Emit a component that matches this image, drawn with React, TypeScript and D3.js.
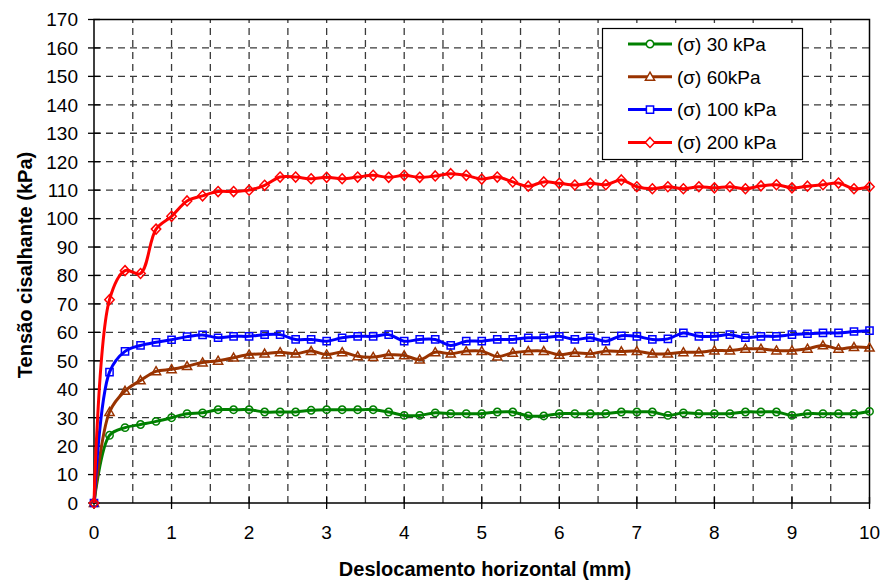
import React, { useEffect, useRef } from "react";
import * as d3 from "d3";

// displacement (mm), one reading every 0.2 mm
const displacement = [
  0, 0.2, 0.4, 0.6, 0.8, 1, 1.2, 1.4, 1.6, 1.8, 2, 2.2, 2.4, 2.6, 2.8, 3, 3.2, 3.4, 3.6, 3.8,
  4, 4.2, 4.4, 4.6, 4.8, 5, 5.2, 5.4, 5.6, 5.8, 6, 6.2, 6.4, 6.6, 6.8, 7, 7.2, 7.4, 7.6, 7.8,
  8, 8.2, 8.4, 8.6, 8.8, 9, 9.2, 9.4, 9.6, 9.8, 10,
];

const shear30 = [
  0, 23.8, 26.5, 27.6, 28.7, 30.0, 31.4, 31.7, 32.8, 32.8, 32.8, 32.0, 32.0, 32.0, 32.6, 32.8, 32.8,
  32.8, 32.8, 32.0, 30.8, 30.8, 31.7, 31.4, 31.4, 31.4, 32.0, 32.0, 30.6, 30.6, 31.4, 31.4, 31.4,
  31.4, 32.0, 32.0, 32.0, 30.8, 31.7, 31.4, 31.4, 31.4, 32.0, 32.0, 32.0, 30.8, 31.4, 31.4, 31.4,
  31.4, 32.2,
];

const shear60 = [
  0, 32.0, 39.4, 43.1, 46.3, 47.0, 48.1, 49.4, 50.0, 51.1, 52.2, 52.5, 53.0, 52.5, 53.4, 52.2, 53.0,
  51.6, 51.3, 52.1, 51.9, 50.4, 53.0, 52.5, 53.4, 53.4, 51.5, 52.8, 53.4, 53.4, 52.1, 52.8, 52.5,
  53.4, 53.3, 53.4, 52.5, 52.5, 53.0, 53.0, 53.6, 53.6, 54.2, 54.2, 53.6, 53.6, 54.2, 55.4, 54.2,
  54.8, 54.6,
];

const shear100 = [
  0, 46.0, 53.3, 55.4, 56.5, 57.4, 58.5, 59.1, 58.1, 58.6, 58.6, 59.2, 59.2, 57.5, 57.5, 56.9, 58.1,
  58.6, 58.6, 59.2, 56.9, 57.5, 57.5, 55.4, 56.9, 56.9, 57.5, 57.5, 58.1, 58.1, 58.6, 57.5, 58.1,
  56.9, 58.8, 58.6, 57.5, 57.7, 59.8, 58.6, 58.6, 59.2, 58.1, 58.6, 58.6, 59.2, 59.5, 59.8, 59.8,
  60.3, 60.6,
];

const shear200 = [
  0, 71.5, 81.7, 80.7, 96.3, 100.8, 106.2, 108, 109.5, 109.5, 110, 111.7, 114.6, 114.6, 114, 114.5,
  114, 114.6, 115.2, 114.5, 115.2, 114.5, 115, 115.8, 115.2, 113.9, 114.6, 112.9, 111.4, 112.9,
  112.4, 111.8, 112.4, 111.9, 113.6, 111.2, 110.5, 111.2, 110.5, 111.2, 110.8, 111.2, 110.5, 111.5,
  111.9, 110.8, 111.4, 111.9, 112.5, 110.5, 111.2,
];

const seriesNames = ["(σ) 30 kPa", "(σ) 60kPa", "(σ) 100 kPa", "(σ) 200 kPa"];
const seriesValues = [shear30, shear60, shear100, shear200];
const seriesColors = ["#008000", "#993300", "#0000ff", "#ff0000"];
const seriesMarkers = ["circle", "triangle", "square", "diamond"];

const xTicks = [0, 1, 2, 3, 4, 5, 6, 7, 8, 9, 10];
const yTicks = [0, 10, 20, 30, 40, 50, 60, 70, 80, 90, 100, 110, 120, 130, 140, 150, 160, 170];

const FONT = "'Liberation Sans', Arial, sans-serif";

function markerPath(kind: string) {
  switch (kind) {
    case "circle":
      return "M3.7,0A3.7,3.7,0,1,1,-3.7,0A3.7,3.7,0,1,1,3.7,0Z";
    case "square":
      return "M-3.6,-3.6H3.6V3.6H-3.6Z";
    case "triangle":
      return "M0,-4.6L4.6,3.4H-4.6Z";
    default:
      return "M0,-5L4.7,0L0,5L-4.7,0Z";
  }
}

const App: React.FC = () => {
  const svgRef = useRef<SVGSVGElement | null>(null);

  useEffect(() => {
    const width = 882;
    const height = 583;
    const left = 94;
    const right = 869.5;
    const top = 19.5;
    const bottom = 503;

    const x = d3.scaleLinear().domain([0, 10]).range([left, right]);
    const y = d3.scaleLinear().domain([0, 170]).range([bottom, top]);

    const svg = d3.select(svgRef.current);
    svg.selectAll("*").remove();
    svg.attr("width", width).attr("height", height);

    svg.append("rect").attr("width", width).attr("height", height).attr("fill", "#fff");

    // dashed grid
    const grid = svg.append("g").attr("stroke", "#3a3a3a").attr("stroke-width", 1.3)
      .attr("stroke-dasharray", "7,5");
    grid.selectAll("line.h")
      .data(yTicks.slice(1, -1))
      .join("line")
      .attr("class", "h")
      .attr("x1", left).attr("x2", right)
      .attr("y1", d => y(d)).attr("y2", d => y(d));
    grid.selectAll("line.v")
      .data(d3.range(0.5, 10, 0.5))
      .join("line")
      .attr("class", "v")
      .attr("x1", d => x(d)).attr("x2", d => x(d))
      .attr("y1", bottom).attr("y2", top);

    // frame
    svg.append("rect")
      .attr("x", left).attr("y", top)
      .attr("width", right - left).attr("height", bottom - top)
      .attr("fill", "none").attr("stroke", "#000").attr("stroke-width", 1.5);

    // ticks
    svg.append("g").selectAll("line")
      .data(yTicks)
      .join("line")
      .attr("x1", left - 6).attr("x2", left + 6)
      .attr("y1", d => y(d)).attr("y2", d => y(d))
      .attr("stroke", "#000").attr("stroke-width", 1.3);
    svg.append("g").selectAll("line")
      .data(xTicks)
      .join("line")
      .attr("x1", d => x(d)).attr("x2", d => x(d))
      .attr("y1", bottom - 6).attr("y2", bottom + 6)
      .attr("stroke", "#000").attr("stroke-width", 1.3);

    // tick labels
    svg.append("g").selectAll("text")
      .data(yTicks)
      .join("text")
      .attr("x", left - 16)
      .attr("y", d => y(d))
      .attr("dy", "0.36em")
      .attr("text-anchor", "end")
      .style("font-family", FONT)
      .style("font-size", "19px")
      .text(d => d);
    svg.append("g").selectAll("text")
      .data(xTicks)
      .join("text")
      .attr("x", d => x(d))
      .attr("y", 539)
      .attr("text-anchor", "middle")
      .style("font-family", FONT)
      .style("font-size", "19px")
      .text(d => d);

    // axis titles
    svg.append("text")
      .attr("x", 485).attr("y", 576)
      .attr("text-anchor", "middle")
      .style("font-family", FONT)
      .style("font-size", "20px")
      .style("font-weight", "bold")
      .text("Deslocamento horizontal (mm)");
    svg.append("text")
      .attr("transform", "translate(32,265) rotate(-90)")
      .attr("text-anchor", "middle")
      .style("font-family", FONT)
      .style("font-size", "20px")
      .style("font-weight", "bold")
      .text("Tensão cisalhante (kPa)");

    // series
    const line = d3.line<number>()
      .x((_, i) => x(displacement[i]))
      .y(d => y(d))
      .curve(d3.curveCatmullRom);

    seriesValues.forEach((values, s) => {
      const g = svg.append("g");
      g.append("path")
        .attr("d", line(values))
        .attr("fill", "none")
        .attr("stroke", seriesColors[s])
        .attr("stroke-width", 3)
        .attr("stroke-linejoin", "round");
      g.selectAll("path.m")
        .data(values)
        .join("path")
        .attr("class", "m")
        .attr("transform", (d, i) => `translate(${x(displacement[i])},${y(d)})`)
        .attr("d", markerPath(seriesMarkers[s]))
        .attr("fill", "none")
        .attr("stroke", seriesColors[s])
        .attr("stroke-width", 1.5);
    });

    // legend
    const legend = svg.append("g");
    legend.append("rect")
      .attr("x", 602.5).attr("y", 28.5)
      .attr("width", 200).attr("height", 131)
      .attr("fill", "#fff").attr("stroke", "#000").attr("stroke-width", 1.2);
    seriesNames.forEach((name, s) => {
      const cy = 44 + s * 32.8;
      legend.append("line")
        .attr("x1", 628).attr("x2", 672)
        .attr("y1", cy).attr("y2", cy)
        .attr("stroke", seriesColors[s]).attr("stroke-width", 3);
      legend.append("path")
        .attr("transform", `translate(650,${cy})`)
        .attr("d", markerPath(seriesMarkers[s]))
        .attr("fill", "#fff")
        .attr("stroke", seriesColors[s])
        .attr("stroke-width", 1.5);
      legend.append("text")
        .attr("x", 677).attr("y", cy)
        .attr("dy", "0.36em")
        .style("font-family", FONT)
        .style("font-size", "19px")
        .text(name);
    });
  }, []);

  return (
    <div style={{ position: "absolute", left: 0, top: 0 }}>
      <svg ref={svgRef} style={{ display: "block" }}></svg>
    </div>
  );
};

export default App;
